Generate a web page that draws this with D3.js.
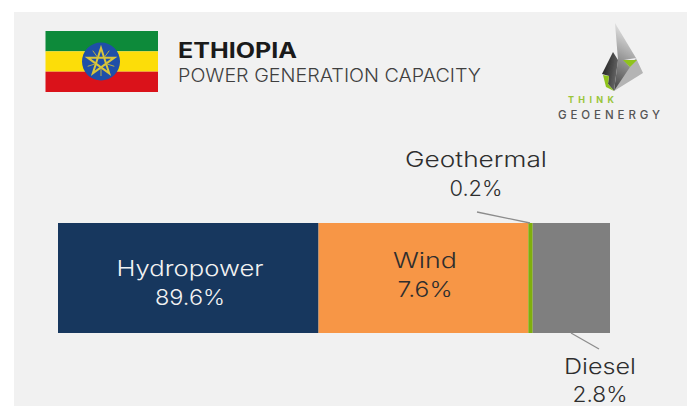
<!DOCTYPE html>
<html>
<head>
<meta charset="utf-8">
<script src="https://cdn.jsdelivr.net/npm/d3@7"></script>
<style>
  html, body { margin: 0; padding: 0; background: #fff; }
  svg { display: block; }
  text { font-family: Inter, "Open Sans", sans-serif; }
</style>
</head>
<body>
<svg id="chart"></svg>
<script>
// segment names and the percentages printed on them
const categories = ['Hydropower', 'Wind', 'Geothermal', 'Diesel'];
const percentLabels = ['89.6%', '7.6%', '0.2%', '2.8%'];
// drawn segment widths, % of bar length (the picture is not to scale with the labels)
const drawnShares = [47.2, 38.0, 0.8, 14.0];
const colors = ['#17375e', '#f79646', '#7fae0c', '#7f7f7f'];

const width = 689, height = 406;

const svg = d3.select('#chart')
    .attr('width', width)
    .attr('height', height);

svg.append('rect')
    .attr('x', 14).attr('y', 12)
    .attr('width', 673).attr('height', 394)
    .attr('fill', '#f1f1f1');

// flag
const flag = svg.append('g');
const flagStripes = ['#0d8a3a', '#fcdd09', '#da121a'];
const flagY = d3.scaleBand().domain(d3.range(3)).range([31, 92]);
flag.selectAll('rect')
    .data(flagStripes)
    .enter()
    .append('rect')
        .attr('x', 45.5)
        .attr('y', (d, i) => flagY(i))
        .attr('width', 112.5)
        .attr('height', flagY.bandwidth())
        .attr('fill', d => d);
flag.append('circle')
    .attr('cx', 101).attr('cy', 61.5).attr('r', 19)
    .attr('fill', '#1f4fa8');
// pentagram, plus the little rays between the points
const starPts = d3.range(5).map(i => {
    const a = -Math.PI / 2 + i * 2 * Math.PI / 5;
    return [101 + 14 * Math.cos(a), 62 + 14 * Math.sin(a)];
});
flag.append('path')
    .attr('d', [0, 2, 4, 1, 3].map((k, i) => (i ? 'L' : 'M') + starPts[k].join(',')).join('') + 'Z')
    .attr('fill', 'none')
    .attr('stroke', '#d9c53a')
    .attr('stroke-width', 2);
flag.selectAll('line')
    .data(d3.range(5))
    .enter()
    .append('line')
        .attr('x1', i => 101 + 6 * Math.cos(Math.PI / 2 + i * 2 * Math.PI / 5))
        .attr('y1', i => 62 + 6 * Math.sin(Math.PI / 2 + i * 2 * Math.PI / 5))
        .attr('x2', i => 101 + 14 * Math.cos(Math.PI / 2 + i * 2 * Math.PI / 5))
        .attr('y2', i => 62 + 14 * Math.sin(Math.PI / 2 + i * 2 * Math.PI / 5))
        .attr('stroke', '#b9ae4a')
        .attr('stroke-width', 1);

// title
svg.append('text')
    .attr('x', 178).attr('y', 58)
    .attr('font-size', 21).attr('font-weight', 700)
    .attr('fill', '#1a1a1a')
    .attr('textLength', 119)
    .attr('lengthAdjust', 'spacingAndGlyphs')
    .text('ETHIOPIA');
svg.append('text')
    .attr('x', 178).attr('y', 82)
    .attr('font-size', 18).attr('font-weight', 300)
    .attr('fill', '#3f3f3f')
    .attr('textLength', 303)
    .attr('lengthAdjust', 'spacingAndGlyphs')
    .text('POWER GENERATION CAPACITY');

// logo
const defs = svg.append('defs');
const grad = defs.append('linearGradient')
    .attr('id', 'logoLight')
    .attr('x1', 0.5).attr('y1', 0).attr('x2', 0.3).attr('y2', 1);
grad.append('stop').attr('offset', '0%').attr('stop-color', '#ededed');
grad.append('stop').attr('offset', '100%').attr('stop-color', '#4a4a4a');
const gradDark = defs.append('linearGradient')
    .attr('id', 'logoDark')
    .attr('x1', 0).attr('y1', 0.2).attr('x2', 1).attr('y2', 0.6);
gradDark.append('stop').attr('offset', '0%').attr('stop-color', '#1c1c1c');
gradDark.append('stop').attr('offset', '100%').attr('stop-color', '#6a6a6a');
defs.append('filter')
    .attr('id', 'soft')
    .append('feGaussianBlur')
    .attr('stdDeviation', 0.6);

const logoShapes = [
    {pts: '636,58 643,73 614,91 628,68', fill: '#b4b4b4'},
    {pts: '615,23 636,58 624,60 630,67 614,91 618,60', fill: 'url(#logoLight)'},
    {pts: '613,52 618,60 614,91 608,84 609,76 602,74', fill: 'url(#logoDark)'},
    {pts: '623,60 637,60 630,67', fill: '#8fc31f'},
    {pts: '603,75 609,76 608,84 614,91 606,87', fill: '#8fc31f'}
];
svg.append('g')
    .attr('filter', 'url(#soft)')
    .selectAll('polygon')
    .data(logoShapes)
    .enter()
    .append('polygon')
        .attr('points', d => d.pts)
        .attr('fill', d => d.fill);
svg.append('text')
    .attr('x', 568).attr('y', 103)
    .attr('font-size', 9).attr('font-weight', 700)
    .attr('fill', '#9ac53a')
    .attr('textLength', 46)
    .text('THINK');
svg.append('text')
    .attr('x', 558).attr('y', 119)
    .attr('font-size', 11.5).attr('font-weight', 500)
    .attr('fill', '#555')
    .attr('textLength', 102)
    .text('GEOENERGY');

// stacked bar
const x = d3.scaleLinear().domain([0, 100]).range([58, 610]);
const y = d3.scaleBand().domain(['Ethiopia']).range([223, 333]);

const segments = [];
let cum = 0;
categories.forEach((c, i) => {
    segments.push({name: c, label: percentLabels[i], color: colors[i], x0: cum, x1: cum + drawnShares[i]});
    cum += drawnShares[i];
});

svg.append('g').selectAll('rect')
    .data(segments)
    .enter()
    .append('rect')
        .attr('x', d => x(d.x0))
        .attr('y', y('Ethiopia'))
        .attr('width', d => x(d.x1) - x(d.x0))
        .attr('height', y.bandwidth())
        .attr('fill', d => d.color);

// labels: inside the bar for the large segments, outside for the thin ones
const labelPos = {
    Hydropower: {cx: 190, y1: 276, y2: 305, fill: '#f2f2f2', w: 147, w2: 70},
    Wind: {cx: 425, y1: 268, y2: 297, fill: '#2e2e2e', w: 64, w2: 55},
    Geothermal: {cx: 476, y1: 167, y2: 196, fill: '#2e2e2e', w: 142, w2: 53},
    Diesel: {cx: 600, y1: 374, y2: 402, fill: '#2e2e2e', w: 72, w2: 55}
};
const labels = svg.append('g').selectAll('g')
    .data(segments)
    .enter()
    .append('g');
labels.append('text')
    .attr('x', d => labelPos[d.name].cx)
    .attr('y', d => labelPos[d.name].y1)
    .attr('text-anchor', 'middle')
    .attr('font-size', 22).attr('font-weight', 300)
    .attr('fill', d => labelPos[d.name].fill)
    .attr('textLength', d => labelPos[d.name].w)
    .attr('lengthAdjust', 'spacingAndGlyphs')
    .text(d => d.name);
labels.append('text')
    .attr('x', d => labelPos[d.name].cx)
    .attr('y', d => labelPos[d.name].y2)
    .attr('text-anchor', 'middle')
    .attr('font-size', 22).attr('font-weight', 300)
    .attr('fill', d => labelPos[d.name].fill)
    .attr('textLength', d => labelPos[d.name].w2)
    .attr('lengthAdjust', 'spacingAndGlyphs')
    .text(d => d.label);

// leader lines
const leaders = [
    {x1: 477, y1: 212, x2: 530, y2: 223},
    {x1: 571, y1: 333, x2: 599, y2: 349}
];
svg.append('g').selectAll('line')
    .data(leaders)
    .enter()
    .append('line')
        .attr('x1', d => d.x1).attr('y1', d => d.y1)
        .attr('x2', d => d.x2).attr('y2', d => d.y2)
        .attr('stroke', '#8c8c8c')
        .attr('stroke-width', 1.3);
</script>
</body>
</html>
